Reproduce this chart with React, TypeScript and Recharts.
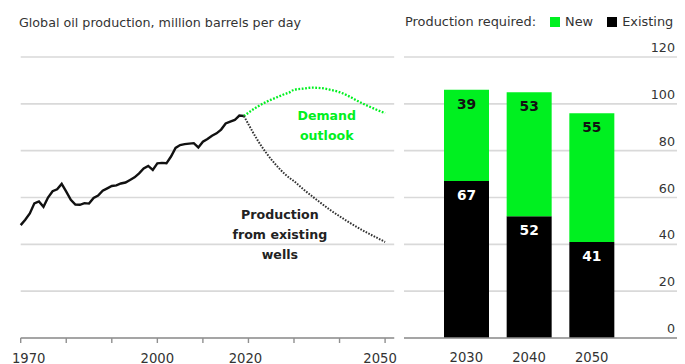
import React from 'react';
import {
  LineChart,
  Line,
  XAxis,
  YAxis,
  CartesianGrid,
  ReferenceDot,
  BarChart,
  Bar,
  LabelList,
} from 'recharts';

// ---- data -------------------------------------------------------------

// Global oil production history, million barrels per day
const historyYears = [
  1970, 1971, 1972, 1973, 1974, 1975, 1976, 1977, 1978, 1979,
  1980, 1981, 1982, 1983, 1984, 1985, 1986, 1987, 1988, 1989,
  1990, 1991, 1992, 1993, 1994, 1995, 1996, 1997, 1998, 1999,
  2000, 2001, 2002, 2003, 2004, 2005, 2006, 2007, 2008, 2009,
  2010, 2011, 2012, 2013, 2014, 2015, 2016, 2017, 2018, 2019,
];
const historyValues = [
  48.2, 50.5, 53.2, 57.5, 58.3, 56.0, 60.0, 62.7, 63.5, 65.8,
  62.5, 59.0, 57.0, 56.9, 57.6, 57.4, 59.8, 60.8, 62.9, 63.9,
  64.9, 65.2, 66.0, 66.4, 67.5, 68.6, 70.3, 72.4, 73.5, 71.8,
  74.6, 74.8, 74.6, 77.5, 81.2, 82.4, 82.8, 83.0, 83.2, 81.4,
  83.8, 85.0, 86.4, 87.4, 89.0, 91.6, 92.4, 93.1, 95.0, 94.8,
];

// Projections from 2019 onward
const projectionYears = [
  2019, 2020, 2021, 2022, 2023, 2024, 2025, 2026, 2027, 2028, 2029,
  2030, 2032, 2034, 2036, 2038, 2040, 2042, 2044, 2046, 2048, 2050,
];
const demandOutlook = [
  94.8, 96.2, 97.6, 98.8, 99.9, 100.9, 101.8, 102.6, 103.4, 104.2, 104.9,
  106.0, 106.5, 106.9, 106.7, 106.0, 105.0, 103.3, 101.2, 99.3, 97.6, 96.0,
];
const existingWells = [
  94.8, 91.3, 87.8, 84.5, 81.5, 78.8, 76.3, 74.0, 71.9, 70.0, 68.4,
  67.0, 63.6, 60.5, 57.5, 54.6, 52.0, 49.5, 47.2, 45.0, 43.0, 41.0,
];

// Production required, million barrels per day
const barYears = ['2030', '2040', '2050'];
const existingRequired = [67, 52, 41];
const newRequired = [39, 53, 55];

// Axis ticks
const valueTicks = [0, 20, 40, 60, 80, 100, 120];
const decadeTicks = [1970, 1980, 1990, 2000, 2010, 2020, 2030, 2040, 2050];
const labelledYears = [1970, 2000, 2020, 2050];

// ---- derived tables ---------------------------------------------------

type LineRow = { year: number; history?: number; demand?: number; existing?: number };

const lineRows: LineRow[] = (() => {
  const byYear = new Map<number, LineRow>();
  historyYears.forEach((year, i) => byYear.set(year, { year, history: historyValues[i] }));
  projectionYears.forEach((year, i) => {
    const row = byYear.get(year) ?? { year };
    row.demand = demandOutlook[i];
    row.existing = existingWells[i];
    byYear.set(year, row);
  });
  return Array.from(byYear.values()).sort((a, b) => a.year - b.year);
})();

const barRows = barYears.map((year, i) => ({
  year,
  existing: existingRequired[i],
  fresh: newRequired[i],
}));

// ---- styles -----------------------------------------------------------

const FONT = '"DejaVu Sans", "Liberation Sans", sans-serif';
const TEXT = '#333333';
const GREEN = '#00f020';
const GRID = '#d9d9d9';
const AXIS = '#909090';

// Nudges for the few labelled years on the timeline axis
const yearLabelShift: Record<number, number> = { 1970: 8, 2000: 0, 2020: -3, 2050: -5 };

const YearTick = (props: any) => {
  const { x, y, payload } = props;
  if (!labelledYears.includes(payload.value)) return <g />;
  return (
    <text
      x={x + (yearLabelShift[payload.value] ?? 0)}
      y={y + 13}
      textAnchor="middle"
      dominantBaseline="central"
      fontSize={13.2}
      fontFamily={FONT}
      fill={TEXT}
    >
      {payload.value}
    </text>
  );
};

const BarYearTick = (props: any) => {
  const { x, y, payload } = props;
  return (
    <text
      x={x}
      y={y + 12}
      textAnchor="middle"
      dominantBaseline="central"
      fontSize={13.2}
      fontFamily={FONT}
      fill={TEXT}
    >
      {payload.value}
    </text>
  );
};

// Value labels sit just above their gridline, flush with its right end
const ValueTick = (props: any) => {
  const { y, payload, viewBox } = props;
  const right = viewBox ? viewBox.x + viewBox.width : props.x;
  return (
    <text
      x={right - 2}
      y={y - 9.5}
      textAnchor="end"
      dominantBaseline="central"
      fontSize={12.7}
      fontFamily={FONT}
      fill={TEXT}
    >
      {payload.value}
    </text>
  );
};

const noteShape = (lines: string[], color: string) => (props: any) => {
  const { cx, cy } = props;
  const step = 20;
  const top = cy - ((lines.length - 1) * step) / 2;
  return (
    <g>
      {lines.map((line, i) => (
        <text
          key={line}
          x={cx}
          y={top + i * step}
          textAnchor="middle"
          dominantBaseline="central"
          fontSize={12.6}
          fontWeight="bold"
          fontFamily={FONT}
          fill={color}
        >
          {line}
        </text>
      ))}
    </g>
  );
};

// Where the two annotations sit, in chart units (year, mb/d)
const demandNote = { year: 2037.2, value: 90.7 };
const wellsNote = { year: 2026.9, value: 44 };

// ---- component --------------------------------------------------------

export default function App() {
  return (
    <div
      style={{
        position: 'absolute',
        left: 0,
        top: 0,
        width: 685,
        height: 364,
        background: '#ffffff',
        fontFamily: FONT,
        overflow: 'hidden',
      }}
    >
      <div
        style={{
          position: 'absolute',
          left: 19,
          top: 15,
          fontSize: 12.7,
          lineHeight: '16px',
          color: TEXT,
          whiteSpace: 'nowrap',
        }}
      >
        Global oil production, million barrels per day
      </div>

      <div
        style={{
          position: 'absolute',
          left: 405,
          top: 14,
          fontSize: 12.9,
          lineHeight: '16px',
          color: TEXT,
          whiteSpace: 'nowrap',
          display: 'flex',
          alignItems: 'center',
        }}
      >
        <span>Production required:</span>
        <span style={{ display: 'inline-block', width: 10, height: 10, background: GREEN, marginLeft: 14, marginRight: 5 }} />
        <span>New</span>
        <span style={{ display: 'inline-block', width: 10, height: 10, background: '#000', marginLeft: 14, marginRight: 5 }} />
        <span>Existing</span>
      </div>

      <div style={{ position: 'absolute', left: 0, top: 0 }}>
        <LineChart
          width={400}
          height={364}
          data={lineRows}
          margin={{ top: 57, right: 5.8, bottom: 0, left: 20.7 }}
        >
          <CartesianGrid vertical={false} stroke={GRID} strokeWidth={1.6} />
          <XAxis
            dataKey="year"
            type="number"
            domain={[1970, 2052]}
            ticks={decadeTicks}
            interval={0}
            height={26}
            tickSize={5}
            tick={<YearTick />}
            axisLine={{ stroke: AXIS, strokeWidth: 1.6 }}
            tickLine={{ stroke: AXIS, strokeWidth: 1.4 }}
          />
          <YAxis hide domain={[0, 120]} ticks={valueTicks} />
          <Line
            dataKey="history"
            type="linear"
            stroke="#111111"
            strokeWidth={2.4}
            dot={false}
            isAnimationActive={false}
          />
          <Line
            dataKey="demand"
            type="monotone"
            stroke={GREEN}
            strokeWidth={2.3}
            strokeDasharray="1.8 1.6"
            dot={false}
            isAnimationActive={false}
          />
          <Line
            dataKey="existing"
            type="monotone"
            stroke="#333333"
            strokeWidth={2}
            strokeDasharray="1.6 1.4"
            dot={false}
            isAnimationActive={false}
          />
          <ReferenceDot
            x={demandNote.year}
            y={demandNote.value}
            r={0}
            shape={noteShape(['Demand', 'outlook'], GREEN)}
          />
          <ReferenceDot
            x={wellsNote.year}
            y={wellsNote.value}
            r={0}
            shape={noteShape(['Production', 'from existing', 'wells'], '#222222')}
          />
        </LineChart>
      </div>

      <div style={{ position: 'absolute', left: 380, top: 0 }}>
        <BarChart
          width={305}
          height={364}
          data={barRows}
          margin={{ top: 57, right: 8, bottom: 0, left: 24 }}
        >
          <CartesianGrid vertical={false} stroke={GRID} strokeWidth={1.6} />
          <XAxis
            dataKey="year"
            height={26}
            padding={{ left: 31, right: 54 }}
            tickLine={false}
            tickSize={5}
            tick={<BarYearTick />}
            axisLine={{ stroke: AXIS, strokeWidth: 1.6 }}
          />
          <YAxis
            orientation="right"
            mirror
            width={40}
            domain={[0, 120]}
            ticks={valueTicks}
            interval={0}
            tickLine={false}
            axisLine={false}
            tickSize={0}
            tickMargin={0}
            tick={<ValueTick />}
          />
          <Bar dataKey="existing" stackId="req" fill="#000000" barSize={45} isAnimationActive={false}>
            <LabelList
              dataKey="existing"
              position="insideTop"
              offset={9}
              fill="#ffffff"
              fontSize={13.8}
              fontWeight="bold"
              fontFamily={FONT}
            />
          </Bar>
          <Bar dataKey="fresh" stackId="req" fill={GREEN} barSize={45} isAnimationActive={false}>
            <LabelList
              dataKey="fresh"
              position="insideTop"
              offset={9}
              fill="#111111"
              fontSize={13.8}
              fontWeight="bold"
              fontFamily={FONT}
            />
          </Bar>
        </BarChart>
      </div>
    </div>
  );
}
